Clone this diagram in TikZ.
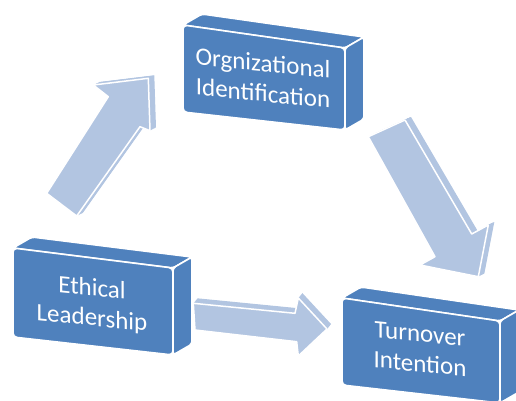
\documentclass[tikz,border=0pt]{standalone}
\usepackage{fontspec}
\setmainfont{Carlito}
\usetikzlibrary{calc}
\definecolor{boxblue}{RGB}{79,129,189}
\definecolor{arrowblue}{RGB}{178,197,225}

% extruded box: #1 name, #2 front top-left, #3 front top-right,
% #4 front bottom-right, #5 front bottom-left
\newcommand\blockbox[5]{%
  \coordinate (#1-tl) at #2;
  \coordinate (#1-tr) at #3;
  \coordinate (#1-br) at #4;
  \coordinate (#1-bl) at #5;
  \filldraw[face, rounded corners=3pt] (#1-tl) -- (#1-tr) -- ($(#1-tr)+(19,-11)$) -- ($(#1-tl)+(19,-11)$) -- cycle;
  \filldraw[face, rounded corners=3pt] (#1-tr) -- ($(#1-tr)+(19,-11)$) -- ($(#1-br)+(19,-11)$) -- (#1-br) -- cycle;
  \filldraw[face, rounded corners=4pt] (#1-tl) -- (#1-tr) -- (#1-br) -- (#1-bl) -- cycle;
}

% extruded block arrow: #1 outline, #2/#3 extrusion offset
\newcommand\blockarrow[3]{%
  \foreach \k in {1,...,10}
    \fill[arrowblue, shift={({\k*#2/10},{\k*#3/10})}] #1;
  \filldraw[arrowface] #1;
}

\begin{document}
\begin{tikzpicture}[x=1pt, y=-1pt,
  face/.style={fill=boxblue, draw=white, line width=1.6pt, line join=round},
  arrowface/.style={fill=arrowblue, draw=white, line width=1.5pt, line join=round},
  boxlabel/.style={text=white, align=center, yslant=-0.1, inner sep=0pt,
    font=\fontsize{25}{30}\selectfont}]
\useasboundingbox (0,0) rectangle (516,400);

% arrows
\blockarrow{(46.7,193.3) -- (108.3,96.7) -- (93.3,85) -- (148.3,78.3) -- (150,130.7) -- (140,126.7) -- (76.7,216) -- cycle}{6}{-3}
\blockarrow{(368.3,136.7) -- (405,120) -- (471.7,234) -- (488.3,225) -- (478.3,276.7) -- (420,265) -- (435,256.7) -- cycle}{6}{-3}
\blockarrow{(193.3,303.3) -- (295,313.3) -- (298.3,298) -- (327,329) -- (298.3,356) -- (296.7,341.7) -- (195,330) -- cycle}{4}{-5}

% boxes
\blockbox{ob}{(183,25)}{(345,48)}{(345,130)}{(183,112)}
\blockbox{eb}{(13,248)}{(173,268)}{(173,355)}{(13,337)}
\blockbox{tb}{(342,298)}{(500,321)}{(500,403)}{(342,385)}

\node[boxlabel] (org) at (263,78) {Orgnizational\\Identification};
\node[boxlabel] (eth) at (92,304) {Ethical\\Leadership};
\node[boxlabel] (tin) at (420,349) {Turnover\\Intention};
\end{tikzpicture}
\end{document}
